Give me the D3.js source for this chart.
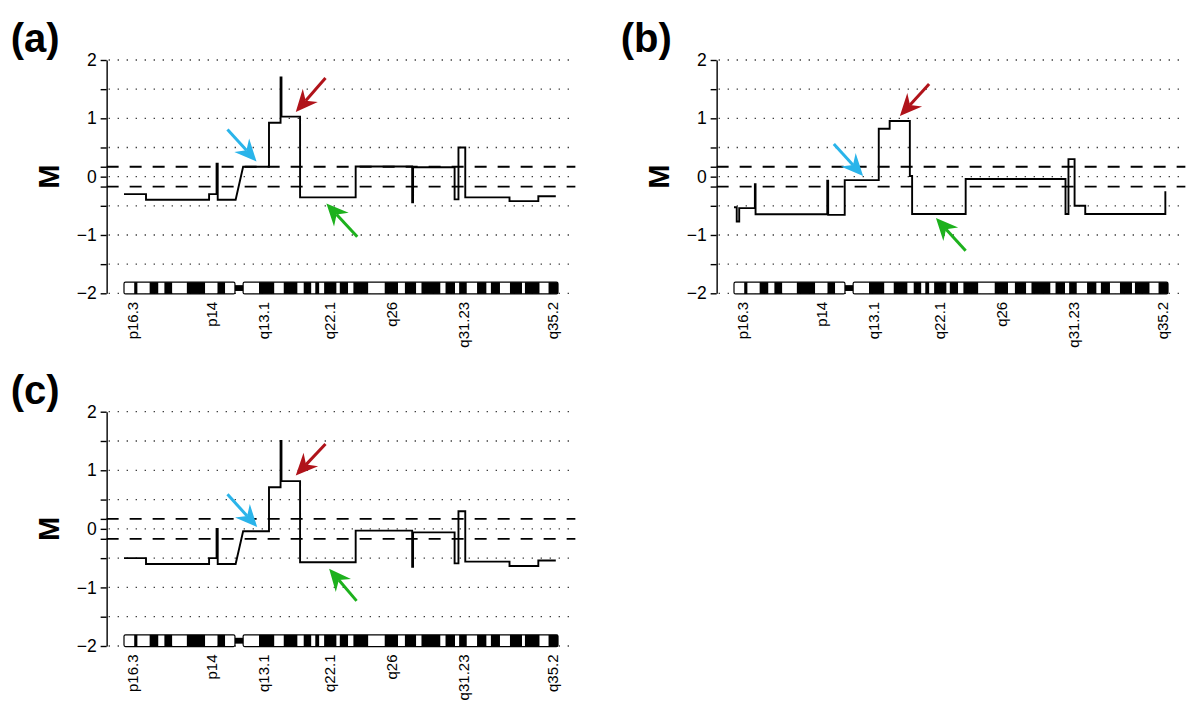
<!DOCTYPE html>
<html><head><meta charset="utf-8">
<script src="https://cdn.jsdelivr.net/npm/d3@7"></script>
<style>body{margin:0;background:#fff;} svg{display:block;font-family:Arial,"Liberation Sans",Helvetica,sans-serif;}</style>
</head><body><svg id="chart" width="1200" height="720"></svg>
<script>
// ---------- data ----------
const chrLengthMb = 191.27;
const yGridTicks = [-2, -1.5, -1, -0.5, 0, 0.5, 1, 1.5, 2];
const yLabelTicks = [-2, -1, 0, 1, 2];
const thresholds = [-0.17, 0.17];
const bandLabels = ["p16.3", "p14", "q13.1", "q22.1", "q26", "q31.23", "q35.2"];
const bandLabelPos = [4.0, 38.5, 61.5, 90.8, 117.9, 149.7, 188.9];
const centromere = [48.9, 52.5];
// [start Mb, end Mb, dark?]
const bands = [
  [0, 4.5, 0], [4.5, 6.0, 1], [6.0, 11.3, 0], [11.3, 15.2, 1], [15.2, 17.8, 0],
  [17.8, 21.3, 1], [21.3, 27.7, 0], [27.7, 35.8, 1], [35.8, 41.2, 0], [41.2, 44.6, 1],
  [44.6, 48.9, 0],
  [52.5, 59.5, 0], [59.5, 66.3, 1], [66.3, 70.4, 0], [70.4, 76.5, 1], [76.5, 79.2, 0],
  [79.2, 82.6, 1], [82.6, 84.3, 0], [84.3, 86.1, 1], [86.1, 88.2, 0], [88.2, 93.7, 1],
  [93.7, 95.1, 0], [95.1, 98.8, 1], [98.8, 101.1, 0], [101.1, 107.7, 1], [107.7, 114.9, 0],
  [114.9, 120.8, 1], [120.8, 123.8, 0], [123.8, 128.8, 1], [128.8, 131.1, 0], [131.1, 139.5, 1],
  [139.5, 141.7, 0], [141.7, 145.9, 1], [145.9, 147.7, 0], [147.7, 151.1, 1], [151.1, 155.6, 0],
  [155.6, 159.8, 1], [159.8, 161.7, 0], [161.7, 165.7, 1], [165.7, 170.1, 0], [170.1, 175.4, 1],
  [175.4, 176.7, 0], [176.7, 183.2, 1], [183.2, 187.1, 0], [187.1, 191.27, 1]
];
// segments [start Mb, end Mb, M]
const segmentsA = [
  [0, 9.7, -0.30], [9.7, 37.5, -0.395], [37.5, 40.8, -0.30], [40.8, 41.3, 0.22],
  [41.3, 49.2, -0.395], [52.5, 63.9, 0.17], [63.9, 69.0, 0.925], [69.0, 69.4, 1.70],
  [69.4, 77.6, 1.03], [77.6, 102.1, -0.355], [102.1, 127.0, 0.175], [127.0, 127.4, -0.44],
  [127.4, 145.7, 0.16], [145.7, 147.4, -0.39], [147.4, 150.4, 0.50], [150.4, 169.9, -0.355],
  [169.9, 182.6, -0.42], [182.6, 190.3, -0.335]
];
const segmentsB = [
  [0, 1.2, -0.525], [1.2, 2.3, -0.77], [2.3, 9.2, -0.54], [9.2, 9.5, -0.13],
  [9.5, 41.1, -0.645], [41.1, 41.5, -0.07], [41.5, 48.8, -0.655], [48.8, 63.8, -0.06],
  [63.8, 68.6, 0.82], [68.6, 77.5, 0.955], [77.5, 78.5, 0.01], [78.5, 102.1, -0.64],
  [102.1, 146.1, -0.04], [146.1, 147.4, -0.64], [147.4, 150.1, 0.30], [150.1, 154.8, -0.50],
  [154.8, 190.1, -0.64], [190.1, 190.1, -0.25]
];
const segmentsC = [
  [0, 9.7, -0.50], [9.7, 37.5, -0.60], [37.5, 40.8, -0.50], [40.8, 41.3, 0.0],
  [41.3, 49.2, -0.60], [52.5, 63.9, -0.04], [63.9, 69.0, 0.71], [69.0, 69.4, 1.50],
  [69.4, 77.6, 0.815], [77.6, 102.1, -0.57], [102.1, 127.0, -0.03], [127.0, 127.4, -0.65],
  [127.4, 145.7, -0.06], [145.7, 147.4, -0.59], [147.4, 150.4, 0.30], [150.4, 169.9, -0.56],
  [169.9, 182.6, -0.635], [182.6, 190.3, -0.54]
];
// arrows: [colour key, tail Mb, tail M, tip Mb, tip M]
const arrowsA = [["blue", 45.6, 0.81, 58.4, 0.26], ["red", 88.8, 1.69, 75.7, 1.11], ["green", 102.8, -1.03, 89.2, -0.46]];
const arrowsB = [["blue", 44.0, 0.56, 56.9, 0.01], ["red", 86.0, 1.59, 73.1, 1.04], ["green", 102.1, -1.27, 89.0, -0.71]];
const arrowsC = [["blue", 45.6, 0.59, 58.7, 0.03], ["red", 88.8, 1.45, 75.7, 0.91], ["green", 102.5, -1.23, 90.4, -0.68]];
const panelNames = ["(a)", "(b)", "(c)"];

// ---------- style / layout ----------
const arrowColor = { blue: "#2ab4ea", red: "#b0131a", green: "#1db11d" };
const layouts = [
  { left: 124, right: 558, top: 60, bottom: 293.3, segs: segmentsA, arrows: arrowsA },
  { left: 734, right: 1168, top: 60, bottom: 293.3, segs: segmentsB, arrows: arrowsB },
  { left: 124, right: 558, top: 411.7, bottom: 646, segs: segmentsC, arrows: arrowsC }
];

const svg = d3.select("#chart");

layouts.forEach((L, i) => {
  const x = d3.scaleLinear().domain([0, chrLengthMb]).range([L.left, L.right]);
  const y = d3.scaleLinear().domain([-2, 2]).range([L.bottom, L.top]);
  const xr0 = x(-0.04 * chrLengthMb), xr1 = x(1.04 * chrLengthMb);
  const g = svg.append("g");

  // dotted grid
  g.selectAll(".grid").data(yGridTicks).join("line")
    .attr("x1", xr0 + 2).attr("x2", xr1).attr("y1", d => y(d)).attr("y2", d => y(d))
    .attr("stroke", "#333").attr("stroke-width", 1.3).attr("stroke-dasharray", "1.3,7.7");
  // dashed thresholds
  g.selectAll(".thr").data(thresholds).join("line")
    .attr("x1", xr0).attr("x2", xr1).attr("y1", d => y(d)).attr("y2", d => y(d))
    .attr("stroke", "#000").attr("stroke-width", 1.8).attr("stroke-dasharray", "12,11");

  // y axis
  const axis = d3.axisLeft(y)
    .tickValues(yGridTicks.concat(thresholds))
    .tickSize(6).tickSizeOuter(0).tickPadding(4)
    .tickFormat(d => yLabelTicks.includes(d) ? d3.format("d")(d) : "");
  const ag = g.append("g").attr("transform", `translate(${xr0},0)`).call(axis);
  ag.select(".domain").attr("stroke-width", 1.4);
  ag.selectAll(".tick line").attr("stroke-width", 1.4);
  ag.selectAll(".tick text").attr("font-size", 17.5).attr("font-family", "Arial, 'Liberation Sans', sans-serif").attr("fill", "#000");

  // ideogram
  const yTop = y(-1.81), yBot = y(-2.01);
  g.selectAll(".band").data(bands).join("rect")
    .attr("x", d => x(d[0])).attr("width", d => x(d[1]) - x(d[0]))
    .attr("y", yTop).attr("height", yBot - yTop)
    .attr("fill", d => d[2] ? "#000" : "#fff");
  g.append("rect").attr("x", x(centromere[0])).attr("width", x(centromere[1]) - x(centromere[0]))
    .attr("y", y(-1.86)).attr("height", y(-1.96) - y(-1.86)).attr("fill", "#000");
  g.append("rect").attr("x", x(0)).attr("width", x(centromere[0]) - x(0))
    .attr("y", yTop).attr("height", yBot - yTop).attr("fill", "none").attr("stroke", "#000").attr("stroke-width", 1.2).attr("rx", 1.5);
  g.append("rect").attr("x", x(centromere[1])).attr("width", x(chrLengthMb) - x(centromere[1]))
    .attr("y", yTop).attr("height", yBot - yTop).attr("fill", "none").attr("stroke", "#000").attr("stroke-width", 1.2).attr("rx", 1.5);

  // band labels
  g.selectAll(".blab").data(bandLabels).join("text")
    .attr("transform", (d, j) => `translate(${x(bandLabelPos[j])},${L.bottom + 8.5}) rotate(-90)`)
    .attr("dy", "0.35em").attr("text-anchor", "end").attr("font-size", 15).text(d => d);

  // segments line
  const pts = [];
  L.segs.forEach(s => { pts.push([s[0], s[2]]); pts.push([s[1], s[2]]); });
  g.append("path").datum(pts)
    .attr("d", d3.line().x(d => x(d[0])).y(d => y(d[1])))
    .attr("fill", "none").attr("stroke", "#000").attr("stroke-width", 1.9).attr("stroke-linejoin", "miter");

  // arrows
  L.arrows.forEach(a => {
    const sx = x(a[1]), sy = y(a[2]), tx = x(a[3]), ty = y(a[4]);
    const dx = tx - sx, dy = ty - sy, len = Math.hypot(dx, dy);
    const ux = dx / len, uy = dy / len, nx = -uy, ny = ux;
    const HL = 22, HW = 10, notch = 7;
    const col = arrowColor[a[0]];
    g.append("line").attr("x1", sx).attr("y1", sy)
      .attr("x2", tx - (HL - notch) * ux).attr("y2", ty - (HL - notch) * uy)
      .attr("stroke", col).attr("stroke-width", 3);
    const head = [[tx, ty], [tx - HL * ux + HW * nx, ty - HL * uy + HW * ny],
      [tx - (HL - notch) * ux, ty - (HL - notch) * uy], [tx - HL * ux - HW * nx, ty - HL * uy - HW * ny]];
    g.append("path").attr("d", d3.line()(head) + "Z").attr("fill", col);
  });

  // M label
  g.append("text").attr("transform", `translate(${xr0 - 58},${y(0)}) rotate(-90)`)
    .attr("dy", "0.35em").attr("text-anchor", "middle").attr("font-size", 29).attr("font-weight", "bold").text("M");
  // panel name
  g.append("text").attr("x", xr0 - 96).attr("y", L.top - 8)
    .attr("font-size", 40).attr("font-weight", "bold").text(panelNames[i]);
});
</script></body></html>
